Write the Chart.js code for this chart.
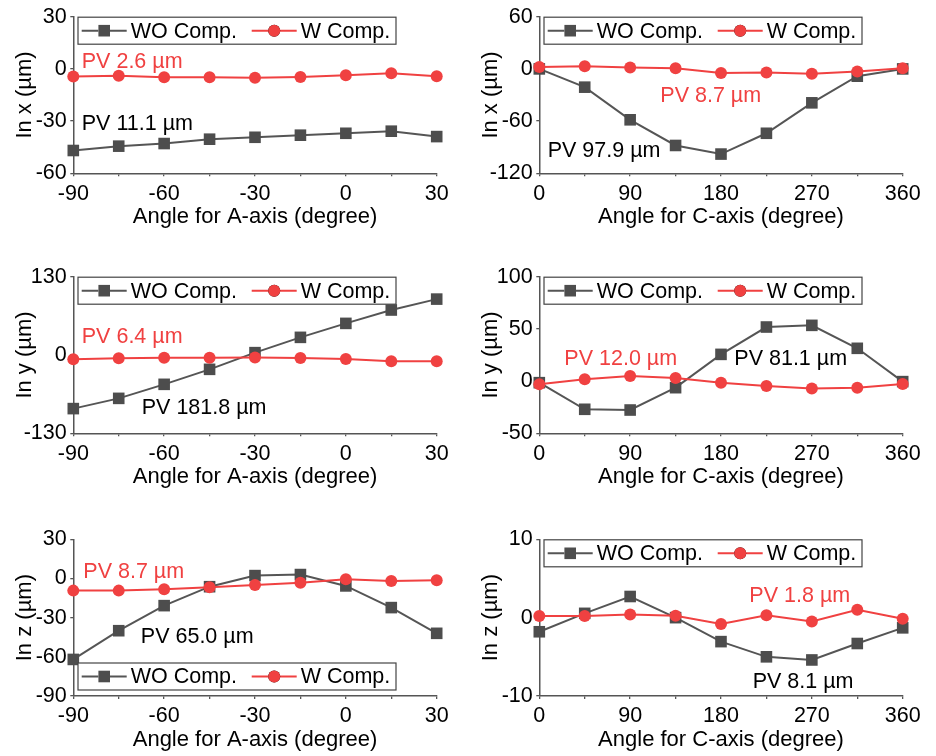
<!DOCTYPE html>
<html>
<head>
<meta charset="utf-8">
<script src="https://cdn.jsdelivr.net/npm/chart.js@4.4.1/dist/chart.umd.min.js"></script>
<style>
body { margin: 0; background: #fff; }
#wrap { position: relative; width: 936px; height: 756px; overflow: hidden; }
canvas { position: absolute; }
</style>
</head>
<body>
<div id="wrap"></div>
<script>
// angles (degree)
var angleA = [-90, -75, -60, -45, -30, -15, 0, 15, 30];
var angleC = [0, 45, 90, 135, 180, 225, 270, 315, 360];
var xTicksA = [-90, -60, -30, 0, 30];
var xTicksC = [0, 90, 180, 270, 360];

// In x
var aXWO = [-46.9, -44.4, -42.9, -40.4, -39.3, -38.1, -37.0, -35.8, -38.9];
var aXW = [-4.4, -4.0, -4.8, -4.8, -5.1, -4.6, -3.6, -2.5, -4.2];
var cXWO = [0, -21, -58.5, -88, -97.9, -74, -39, -8.4, 0];
var cXW = [2.2, 3.1, 1.6, 0.8, -4.6, -4.2, -5.6, -3.1, 0.8];
// In y
var aYWO = [-89, -72, -48.7, -23.8, 3.9, 29.3, 52.5, 74.7, 92.8];
var aYW = [-7.1, -5.5, -4.4, -4.4, -4.0, -5.0, -6.6, -10.4, -10.4];
var cYWO = [-1.5, -27, -27.7, -6.3, 25.6, 51.8, 53.4, 31.4, -0.5];
var cYW = [-3.1, 1.7, 4.9, 3.0, -1.5, -4.7, -7.1, -6.3, -2.8];
// In z
var aZWO = [-62, -40, -20.8, -6.3, 2.2, 3.0, -5.7, -22.3, -42];
var aZW = [-9.3, -9.3, -8.3, -6.8, -5.0, -3.2, -0.6, -1.9, -1.4];
var cZWO = [-1.8, 0.55, 2.7, 0, -3.06, -5.0, -5.4, -3.3, -1.3];
var cZW = [0.2, 0.2, 0.4, 0.25, -0.8, 0.3, -0.5, 1.0, -0.13];

// y ticks
var yTicksAX = [-60, -30, 0, 30];
var yTicksCX = [-120, -60, 0, 60];
var yTicksAY = [-130, 0, 130];
var yTicksCY = [-50, 0, 50, 100];
var yTicksAZ = [-90, -60, -30, 0, 30];
var yTicksCZ = [-10, 0, 10];

var seriesNames = ['WO Comp.', 'W Comp.'];

var GREY = '#4d4d4d';
var RED = '#f04141';
var AXIS = '#555555';
var FONT = "'Liberation Sans', Arial, sans-serif";
Chart.defaults.font.family = FONT;

var panels = [
    { left: 0, top: 0, padTop: 16.7, xAxisH: 76.7, titlePadB: 20, xTitle: 'Angle for A-axis (degree)', yTitle: 'In x (µm)',
      angles: angleA, xTicks: xTicksA, minor: 15, yTicks: yTicksAX, wo: aXWO, w: aXW, legend: 'top',
      notes: [{ text: 'PV 2.6 µm', x: -87.2, y: 4.2, color: RED }, { text: 'PV 11.1 µm', x: -87.2, y: -31.6, color: '#000' }] },
    { left: 466, top: 0, padTop: 16.7, xAxisH: 76.7, titlePadB: 20, xTitle: 'Angle for C-axis (degree)', yTitle: 'In x (µm)',
      angles: angleC, xTicks: xTicksC, minor: 45, yTicks: yTicksCX, wo: cXWO, w: cXW, legend: 'top',
      notes: [{ text: 'PV 8.7 µm', x: 119.9, y: -31.1, color: RED }, { text: 'PV 97.9 µm', x: 8.3, y: -93.9, color: '#000' }] },
    { left: 0, top: 260, padTop: 16.7, xAxisH: 76.7, titlePadB: 20, xTitle: 'Angle for A-axis (degree)', yTitle: 'In y (µm)',
      angles: angleA, xTicks: xTicksA, minor: 15, yTicks: yTicksAY, wo: aYWO, w: aYW, legend: 'top',
      notes: [{ text: 'PV 6.4 µm', x: -87.2, y: 29.5, color: RED }, { text: 'PV 181.8 µm', x: -67.4, y: -88.4, color: '#000' }] },
    { left: 466, top: 260, padTop: 16.7, xAxisH: 76.7, titlePadB: 20, xTitle: 'Angle for C-axis (degree)', yTitle: 'In y (µm)',
      angles: angleC, xTicks: xTicksC, minor: 45, yTicks: yTicksCY, wo: cYWO, w: cYW, legend: 'top',
      notes: [{ text: 'PV 12.0 µm', x: 24.8, y: 20.9, color: RED }, { text: 'PV 81.1 µm', x: 193.2, y: 21, color: '#000' }] },
    { left: 0, top: 506, padTop: 33.3, xAxisH: 60, titlePadB: 2.8, xTitle: 'Angle for A-axis (degree)', yTitle: 'In z (µm)',
      angles: angleA, xTicks: xTicksA, minor: 15, yTicks: yTicksAZ, wo: aZWO, w: aZW, legend: 'bottom',
      notes: [{ text: 'PV 8.7 µm', x: -86.7, y: 5.2, color: RED }, { text: 'PV 65.0 µm', x: -67.7, y: -45, color: '#000' }] },
    { left: 466, top: 506, padTop: 33.3, xAxisH: 60, titlePadB: 2.8, xTitle: 'Angle for C-axis (degree)', yTitle: 'In z (µm)',
      angles: angleC, xTicks: xTicksC, minor: 45, yTicks: yTicksCZ, wo: cZWO, w: cZW, legend: 'top',
      notes: [{ text: 'PV 1.8 µm', x: 208.1, y: 2.8, color: RED }, { text: 'PV 8.1 µm', x: 211.4, y: -8.2, color: '#000' }] }
];

function toPoints(xs, ys) {
    return xs.map(function (x, i) { return { x: x, y: ys[i] }; });
}

// PV labels + boxed legend drawn on the canvas
var extrasPlugin = {
    id: 'extras',
    afterDatasetsDraw: function (chart, args, opts) {
        var ctx = chart.ctx;
        var xs = chart.scales.x, ys = chart.scales.y;
        var area = chart.chartArea;
        ctx.save();
        ctx.font = '21.5px ' + FONT;
        ctx.textAlign = 'left';
        ctx.textBaseline = 'middle';
        opts.notes.forEach(function (n) {
            ctx.fillStyle = n.color;
            ctx.fillText(n.text, xs.getPixelForValue(n.x), ys.getPixelForValue(n.y));
        });

        var bx = area.left + 4.7, bw = 318, bh = 27;
        var by = opts.legend === 'top' ? area.top + 0.5 : area.bottom - 6 - bh;
        ctx.fillStyle = '#fff';
        ctx.fillRect(bx, by, bw, bh);
        ctx.strokeStyle = '#444';
        ctx.lineWidth = 1.2;
        ctx.strokeRect(bx, by, bw, bh);
        var cy = by + bh / 2;
        var offs = [3.7, 173.7];
        chart.data.datasets.forEach(function (ds, i) {
            var x0 = bx + offs[i];
            ctx.strokeStyle = ds.borderColor;
            ctx.lineWidth = ds.borderWidth;
            ctx.beginPath();
            ctx.moveTo(x0, cy);
            ctx.lineTo(x0 + 45, cy);
            ctx.stroke();
            Chart.helpers.drawPoint(ctx, {
                pointStyle: ds.pointStyle, radius: ds.pointRadius, borderWidth: 0, rotation: 0
            }, x0 + 22.5, cy);
            ctx.fillStyle = ds.pointBackgroundColor;
            ctx.beginPath();
            if (ds.pointStyle === 'rect') {
                var s = ds.pointRadius * Math.SQRT1_2;
                ctx.rect(x0 + 22.5 - s, cy - s, 2 * s, 2 * s);
            } else {
                ctx.arc(x0 + 22.5, cy, ds.pointRadius, 0, Math.PI * 2);
            }
            ctx.fill();
            ctx.fillStyle = '#000';
            ctx.fillText(seriesNames[i], x0 + 49, cy + 1);
        });
        ctx.restore();
    }
};

var wrap = document.getElementById('wrap');

panels.forEach(function (p) {
    var cv = document.createElement('canvas');
    cv.width = 468;
    cv.height = 250;
    cv.style.left = p.left + 'px';
    cv.style.top = p.top + 'px';
    wrap.appendChild(cv);

    var xAll = [];
    for (var v = p.xTicks[0]; v <= p.xTicks[p.xTicks.length - 1]; v += p.minor) xAll.push(v);

    new Chart(cv.getContext('2d'), {
        type: 'line',
        data: {
            datasets: [{
                label: seriesNames[0],
                data: toPoints(p.angles, p.wo),
                borderColor: '#555555',
                borderWidth: 2,
                pointStyle: 'rect',
                pointRadius: 8.2,
                pointBackgroundColor: GREY,
                pointBorderWidth: 0,
                tension: 0,
                clip: false,
                order: 2
            }, {
                label: seriesNames[1],
                data: toPoints(p.angles, p.w),
                borderColor: RED,
                borderWidth: 2,
                pointStyle: 'circle',
                pointRadius: 6,
                pointBackgroundColor: RED,
                pointBorderWidth: 0,
                tension: 0,
                clip: false,
                order: 1
            }]
        },
        options: {
            responsive: false,
            animation: false,
            devicePixelRatio: 1,
            layout: { padding: { top: p.padTop, right: 31.3, bottom: 0, left: 0 } },
            plugins: {
                legend: { display: false },
                tooltip: { enabled: false },
                extras: { notes: p.notes, legend: p.legend }
            },
            scales: {
                x: {
                    type: 'linear',
                    min: p.xTicks[0],
                    max: p.xTicks[p.xTicks.length - 1],
                    afterBuildTicks: function (s) {
                        s.ticks = xAll.map(function (v) { return { value: v }; });
                    },
                    afterFit: function (s) { s.height = p.xAxisH; },
                    grid: { drawOnChartArea: false, drawTicks: true, tickLength: 3, color: AXIS, lineWidth: 1.3 },
                    border: { display: true, color: AXIS, width: 1.5 },
                    ticks: {
                        autoSkip: false, maxRotation: 0, padding: 4.4, color: '#000',
                        font: { size: 21.5 },
                        callback: function (v) { return p.xTicks.indexOf(v) >= 0 ? String(v) : ''; }
                    },
                    title: {
                        display: true, text: p.xTitle, color: '#000',
                        font: { size: 22 }, padding: { top: 0, bottom: p.titlePadB }
                    }
                },
                y: {
                    type: 'linear',
                    min: p.yTicks[0],
                    max: p.yTicks[p.yTicks.length - 1],
                    afterBuildTicks: function (s) {
                        s.ticks = p.yTicks.map(function (v) { return { value: v }; });
                    },
                    afterFit: function (s) { s.width = 73.3; },
                    grid: { drawOnChartArea: false, drawTicks: true, tickLength: 3, color: AXIS, lineWidth: 1.3 },
                    border: { display: true, color: AXIS, width: 1.5 },
                    ticks: {
                        autoSkip: false, padding: 3.6, color: '#000',
                        font: { size: 21.5 },
                        callback: function (v) { return String(v); }
                    },
                    title: {
                        display: true, text: p.yTitle, color: '#000',
                        font: { size: 22 }, padding: { top: 11.8, bottom: 0 }
                    }
                }
            }
        },
        plugins: [extrasPlugin]
    });
});
</script>
</body>
</html>
